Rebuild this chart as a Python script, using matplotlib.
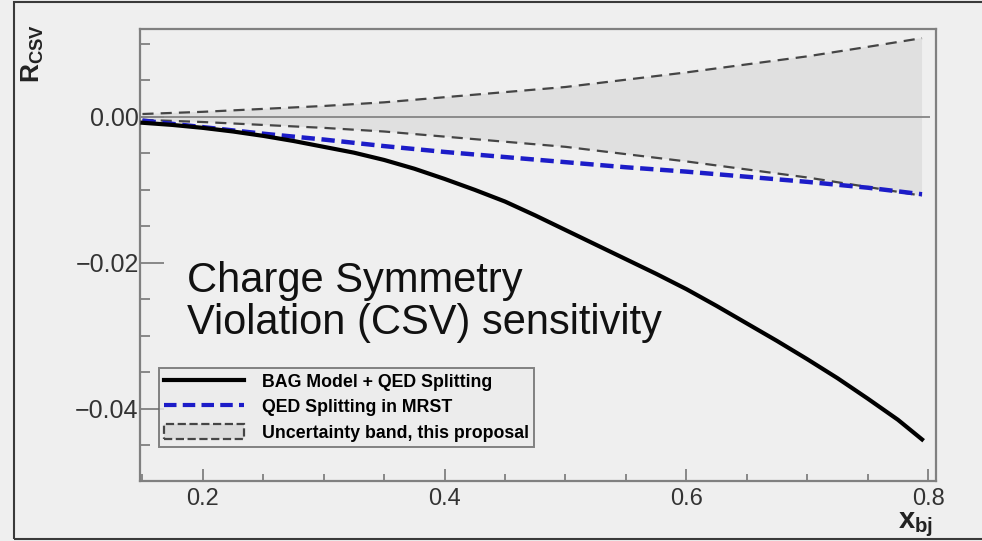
import matplotlib
matplotlib.use("Agg")
import matplotlib.pyplot as plt
from matplotlib.lines import Line2D
from matplotlib.patches import Patch, Rectangle
from matplotlib.ticker import MultipleLocator, FixedLocator

plt.rcParams['font.family'] = ['Liberation Sans', 'DejaVu Sans']
plt.rcParams['mathtext.fontset'] = 'custom'
plt.rcParams['mathtext.rm'] = 'Liberation Sans'
plt.rcParams['mathtext.bf'] = 'Liberation Sans:bold'

# BAG model + QED splitting
x_bag = [0.15, 0.175, 0.20, 0.225, 0.25, 0.275, 0.30, 0.325, 0.35, 0.375, 0.40, 0.425,
         0.45, 0.475, 0.50, 0.525, 0.55, 0.575, 0.60, 0.625, 0.65, 0.675, 0.70, 0.725,
         0.75, 0.775, 0.795]
r_bag = [-0.0008, -0.0011, -0.0015, -0.0020, -0.0026, -0.0033, -0.0041, -0.0049,
         -0.0059, -0.0071, -0.0085, -0.0100, -0.0116, -0.0135, -0.0155, -0.0175,
         -0.0195, -0.0215, -0.0236, -0.0259, -0.0283, -0.0307, -0.0332, -0.0358,
         -0.0386, -0.0415, -0.0442]

# QED splitting in MRST and the uncertainty band
x_bj = [0.15, 0.20, 0.25, 0.30, 0.35, 0.40, 0.45, 0.50, 0.55, 0.60, 0.65, 0.70, 0.75, 0.795]
r_mrst = [-0.0005, -0.0014, -0.0023, -0.0031, -0.0040, -0.0048, -0.0055, -0.0062,
          -0.0069, -0.0075, -0.0082, -0.0089, -0.0097, -0.0106]
band_hi = [0.0004, 0.0007, 0.0011, 0.0015, 0.0020, 0.0027, 0.0034, 0.0041,
           0.0051, 0.0061, 0.0072, 0.0083, 0.0096, 0.0108]
band_lo = [-0.0004, -0.0007, -0.0011, -0.0015, -0.0020, -0.0027, -0.0034, -0.0041,
           -0.0051, -0.0061, -0.0072, -0.0083, -0.0096, -0.0108]

bg = '#efefef'
frame = '#808080'

fig = plt.figure(figsize=(9.82, 5.41), dpi=100, facecolor=bg)
ax = fig.add_axes([0.1426, 0.1109, 0.8106, 0.8355], facecolor=bg)

# band
ax.fill_between(x_bj, band_lo, band_hi, facecolor='#e0e0e0', edgecolor='none', zorder=1)
ax.hlines(0, 0.148, 0.802, color='#858585', lw=1.3, zorder=2)
ax.plot(x_bj, band_hi, color='#454545', lw=1.6, dashes=(5, 3.2), zorder=3)
ax.plot(x_bj, band_lo, color='#454545', lw=1.6, dashes=(5, 3.2), zorder=3)

ax.plot(x_bj, r_mrst, color='#1c1cc8', lw=3.2, dashes=(3, 1.5), zorder=4)
ax.plot(x_bag, r_bag, color='black', lw=3.0, zorder=5, solid_joinstyle='round')

ax.set_xlim(0.148, 0.8066)
ax.set_ylim(-0.0499, 0.01205)

for s in ax.spines.values():
    s.set_color(frame)
    s.set_linewidth(1.6)

ax.xaxis.set_major_locator(FixedLocator([0.2, 0.4, 0.6, 0.8]))
ax.xaxis.set_minor_locator(MultipleLocator(0.05))
ax.yaxis.set_major_locator(FixedLocator([0.0, -0.02, -0.04]))
ax.yaxis.set_minor_locator(MultipleLocator(0.005))
ax.set_xticklabels(['0.2', '0.4', '0.6', '0.8'])
ax.set_yticklabels(['0.00', '\u22120.02', '\u22120.04'])

ax.tick_params(axis='x', which='major', direction='in', length=9, width=1.3,
               color=frame, labelsize=17, labelcolor='#333333', pad=5)
ax.tick_params(axis='x', which='minor', direction='in', length=5, width=1.3, color=frame)
ax.tick_params(axis='y', which='major', direction='in', length=17, width=1.3,
               color=frame, labelsize=18, labelcolor='#333333', pad=1)
ax.tick_params(axis='y', which='minor', direction='in', length=7.5, width=1.3, color=frame)

fig.text(0.033, 0.902, r'$\mathbf{R}_{\mathbf{CSV}}$', rotation=90, fontsize=19,
         color='#222222', ha='center', va='center')
fig.text(0.950, 0.03, r'$\mathbf{x}_{\mathbf{bj}}$', fontsize=21,
         color='#222222', ha='right', va='center')

ax.text(0.0595, 0.305, 'Charge Symmetry\nViolation (CSV) sensitivity', transform=ax.transAxes,
        fontsize=30, color='#111111', ha='left', va='bottom', linespacing=1.08, zorder=6)

handles = [
    Line2D([], [], color='black', lw=3.0),
    Line2D([], [], color='#1c1cc8', lw=3.0, dashes=(3, 1.5)),
    Patch(facecolor='#dcdcdc', edgecolor='#454545', linestyle='--', linewidth=1.6),
]
labels = ['BAG Model + QED Splitting', 'QED Splitting in MRST', 'Uncertainty band, this proposal']
leg = ax.legend(handles, labels, loc='upper left', bbox_to_anchor=(0.0235, 0.250),
                frameon=True, fancybox=False, facecolor='#ececec', edgecolor='#666666',
                prop={'weight': 'bold', 'size': 12.8}, handlelength=4.5, handleheight=0.95,
                handletextpad=1.0, labelspacing=0.42, borderpad=0.3, borderaxespad=0)
leg.get_frame().set_linewidth(1.4)
leg.set_zorder(7)

# outer frame line of the figure
fig.patches.append(Rectangle((14 / 982, 2 / 541), 1.0, 1 - 4 / 541, transform=fig.transFigure,
                             fill=False, edgecolor='#3a3a3a', lw=1.5))

fig.savefig('out.png', dpi=100, facecolor=bg)
